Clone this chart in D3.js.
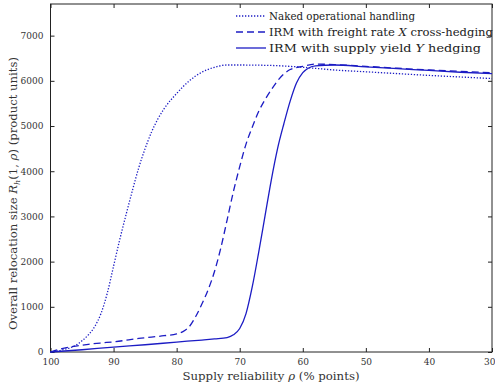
<!DOCTYPE html>
<html>
<head>
<meta charset="utf-8">
<script src="https://cdn.jsdelivr.net/npm/d3@7"></script>
<style>
  body { margin: 0; background: #fff; }
  svg { display: block; }
  .tick text { font-family: "DejaVu Serif", serif; font-size: 9px; fill: #333; }
</style>
</head>
<body>
<svg id="chart" width="495" height="389"></svg>
<script>
// supply reliability (% points) and relocation size per series
const rhoNaked = [100, 98, 96, 95, 94, 93, 92, 91, 90, 89, 88, 87, 86, 85, 84, 83, 82, 80, 78, 76, 74, 72, 70, 65, 60, 55, 50, 45, 40, 35, 30];
const naked = [0, 50, 150, 250, 380, 560, 850, 1300, 1900, 2500, 3050, 3580, 4080, 4500, 4860, 5150, 5380, 5720, 6000, 6190, 6300, 6350, 6350, 6340, 6300, 6240, 6200, 6160, 6120, 6085, 6050];

const rhoFreight = [100, 98, 96, 94, 92, 90, 88, 86, 84, 82, 80, 79, 78, 77, 76, 75, 74, 73, 72, 71, 70, 69, 68, 67, 66, 65, 64, 63, 62, 60, 58, 55, 50, 45, 40, 35, 30];
const freight = [0, 80, 130, 170, 200, 225, 260, 300, 330, 360, 400, 450, 560, 780, 1060, 1380, 1780, 2300, 2920, 3550, 4100, 4600, 4980, 5320, 5580, 5800, 6000, 6150, 6250, 6320, 6370, 6360, 6320, 6280, 6240, 6210, 6180];

const rhoYield = [100, 95, 90, 85, 80, 76, 74, 72, 71, 70, 69, 68, 67, 66, 65, 64, 63, 62, 61, 60, 59, 58, 55, 50, 45, 40, 35, 30];
const yieldHedge = [0, 50, 110, 160, 220, 265, 290, 320, 380, 520, 850, 1450, 2200, 3000, 3800, 4500, 5050, 5550, 5950, 6180, 6290, 6330, 6350, 6310, 6270, 6230, 6190, 6160];

const legendLabels = ["Naked operational handling", "IRM with freight rate X cross-hedging", "IRM with supply yield Y hedging"];
const xTicks = [100, 90, 80, 70, 60, 50, 40, 30];
const yTicks = [0, 1000, 2000, 3000, 4000, 5000, 6000, 7000];

const margin = { left: 50.5, right: 3, top: 4, bottom: 37 };
const W = 495, H = 389;
const blue = "#1c1cc4";
const serif = "DejaVu Serif, serif";
const svg = d3.select("#chart");

const x = d3.scaleLinear().domain([100, 30]).range([margin.left, W - margin.right]);
const y = d3.scaleLinear().domain([0, 7700]).range([H - margin.bottom, margin.top]);

// box frame
svg.append("rect")
  .attr("x", x(100)).attr("y", y(7700))
  .attr("width", x(30) - x(100)).attr("height", y(0) - y(7700))
  .attr("fill", "none").attr("stroke", "#222").attr("stroke-width", 1);

const gx = svg.append("g").attr("transform", `translate(0,${y(0)})`)
  .call(d3.axisBottom(x).tickValues(xTicks).tickSize(-4).tickPadding(7).tickFormat(d3.format("d")));
const gxTop = svg.append("g").attr("transform", `translate(0,${y(7700)})`)
  .call(d3.axisTop(x).tickValues(xTicks).tickSize(-4).tickFormat(""));
const gy = svg.append("g").attr("transform", `translate(${x(100)},0)`)
  .call(d3.axisLeft(y).tickValues(yTicks).tickSize(-4).tickPadding(7).tickFormat(d3.format("d")));
const gyR = svg.append("g").attr("transform", `translate(${x(30)},0)`)
  .call(d3.axisRight(y).tickValues(yTicks).tickSize(-4).tickFormat(""));
[gx, gxTop, gy, gyR].forEach(g => {
  g.select(".domain").remove();
  g.selectAll(".tick line").attr("stroke", "#222");
});
// last x label sits at the window edge; keep it inside
gx.selectAll(".tick text").filter(d => d === 30).attr("text-anchor", "end").attr("dx", 3);

// curves
const series = [
  { rho: rhoNaked, v: naked, dash: "1.3,1.7" },
  { rho: rhoFreight, v: freight, dash: "7,4" },
  { rho: rhoYield, v: yieldHedge, dash: null }
];
const line = d3.line().curve(d3.curveMonotoneX).x(d => x(d[0])).y(d => y(d[1]));
series.forEach(s => {
  const pts = s.rho.map((r, i) => [r, s.v[i]]);
  svg.append("path")
    .datum(pts)
    .attr("d", line)
    .attr("fill", "none")
    .attr("stroke", blue)
    .attr("stroke-width", 1.3)
    .attr("stroke-dasharray", s.dash);
});

// legend (text widths stretched to the reference's wide serif)
const legendWidths = [146, 224, 212];
const lg = svg.append("g");
legendLabels.forEach((lab, i) => {
  const ly = 16 + i * 16;
  lg.append("line")
    .attr("x1", 236).attr("x2", 266).attr("y1", ly).attr("y2", ly)
    .attr("stroke", blue).attr("stroke-width", 1.3)
    .attr("stroke-dasharray", series[i].dash);
  const t = lg.append("text")
    .attr("x", 269).attr("y", ly + 4)
    .attr("font-family", serif)
    .attr("font-size", 10.5)
    .attr("textLength", legendWidths[i])
    .attr("lengthAdjust", "spacingAndGlyphs")
    .attr("fill", "#222");
  if (i === 0) t.text(lab);
  else if (i === 1) {
    t.append("tspan").text("IRM with freight rate ");
    t.append("tspan").attr("font-style", "italic").text("X");
    t.append("tspan").text(" cross-hedging");
  } else {
    t.append("tspan").text("IRM with supply yield ");
    t.append("tspan").attr("font-style", "italic").text("Y");
    t.append("tspan").text(" hedging");
  }
});

// axis titles
const xt = svg.append("text")
  .attr("x", 271).attr("y", 380)
  .attr("text-anchor", "middle")
  .attr("font-family", serif)
  .attr("font-size", 11.5).attr("fill", "#333")
  .attr("textLength", 177).attr("lengthAdjust", "spacingAndGlyphs");
xt.append("tspan").text("Supply reliability ");
xt.append("tspan").attr("font-style", "italic").text("ρ");
xt.append("tspan").text(" (% points)");

const yt = svg.append("text")
  .attr("transform", "translate(17,193.5) rotate(-90)")
  .attr("text-anchor", "middle")
  .attr("font-family", serif)
  .attr("font-size", 11.5).attr("fill", "#333")
  .attr("textLength", 273).attr("lengthAdjust", "spacingAndGlyphs");
yt.append("tspan").text("Overall relocation size ");
yt.append("tspan").attr("font-style", "italic").text("R");
yt.append("tspan").attr("font-size", 8).attr("dy", 3).attr("font-style", "italic").text("h");
yt.append("tspan").attr("dy", -3).text("(1, ");
yt.append("tspan").attr("font-style", "italic").text("ρ");
yt.append("tspan").text(") (product units)");
</script>
</body>
</html>
